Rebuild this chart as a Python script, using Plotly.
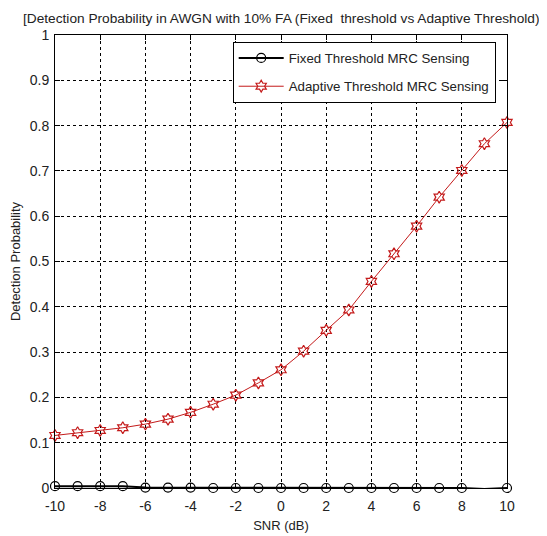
import plotly.graph_objects as go

snr = [-10, -9, -8, -7, -6, -5, -4, -3, -2, -1, 0, 1, 2, 3, 4, 5, 6, 7, 8, 9, 10]
fixed_pd = [0.004, 0.004, 0.004, 0.004, 0.001, 0.001, 0.001, 0.0, 0.0, 0.0, 0.0,
            0.0, 0.0, 0.0, 0.0, 0.0, 0.0, 0.0, 0.0, -0.002, 0.0]
adaptive_pd = [0.116, 0.122, 0.127, 0.133, 0.141, 0.152, 0.167, 0.185, 0.205, 0.232, 0.261,
               0.302, 0.348, 0.393, 0.456, 0.517, 0.578, 0.642, 0.701, 0.760, 0.807]
y_ticks = [0, 0.1, 0.2, 0.3, 0.4, 0.5, 0.6, 0.7, 0.8, 0.9, 1]
y_tick_text = ["0", "0.1", "0.2", "0.3", "0.4", "0.5", "0.6", "0.7", "0.8", "0.9", "1"]
x_ticks = [-10, -8, -6, -4, -2, 0, 2, 4, 6, 8, 10]
x_tick_text = ["-10", "-8", "-6", "-4", "-2", "0", "2", "4", "6", "8", "10"]

FONT = "Liberation Sans, Arial, sans-serif"
TXT = "#222"

fig = go.Figure()
fig.add_trace(go.Scatter(
    x=snr, y=fixed_pd, mode="lines+markers", name="Fixed Threshold MRC Sensing",
    legendgroup="a",
    line=dict(color="black", width=2),
    marker=dict(symbol="circle-open", size=9, color="black", line=dict(width=1.2)),
    cliponaxis=False,
))
fig.add_trace(go.Scatter(
    x=snr, y=adaptive_pd, mode="lines+markers", name="Adaptive Threshold MRC Sensing",
    legendgroup="b",
    line=dict(color="#c41a1a", width=1),
    marker=dict(symbol="hexagram-open", size=9, color="#c41a1a", line=dict(width=1.2)),
    cliponaxis=False,
))

axis_common = dict(
    showline=True, linecolor="black", linewidth=1, mirror="ticks",
    ticks="inside", ticklen=5, tickcolor="black",
    showgrid=True, gridcolor="black", gridwidth=1, griddash="dot",
    zeroline=False, automargin=False,
    tickfont=dict(family=FONT, size=14, color=TXT),
)

fig.update_xaxes(range=[-10, 10], tickvals=x_ticks, ticktext=x_tick_text,
                 ticklabelstandoff=5,
                 title=dict(text="SNR (dB)", font=dict(family=FONT, size=13, color=TXT), standoff=8),
                 **axis_common)
fig.update_yaxes(range=[0, 1], tickvals=y_ticks, ticktext=y_tick_text,
                 ticklabelstandoff=2,
                 title=dict(text="Detection Probability", font=dict(family=FONT, size=13, color=TXT), standoff=6),
                 **axis_common)

fig.update_layout(
    width=539, height=528,
    margin=dict(l=47, r=40, t=27, b=48),
    paper_bgcolor="white", plot_bgcolor="white",
    title=dict(text="[Detection Probability in AWGN with 10% FA (Fixed\u00a0 threshold vs Adaptive Threshold)",
               x=0.507, xanchor="center", y=0.981, yanchor="middle",
               font=dict(family=FONT, size=13.7, color=TXT)),
    legend=dict(x=0.975, y=0.985, xanchor="right", yanchor="top",
                bgcolor="white", bordercolor="black", borderwidth=1,
                font=dict(family=FONT, size=13.3, color=TXT),
                traceorder="grouped", tracegroupgap=8,
                itemwidth=45),
    showlegend=True,
)

fig.write_html("out.html")
